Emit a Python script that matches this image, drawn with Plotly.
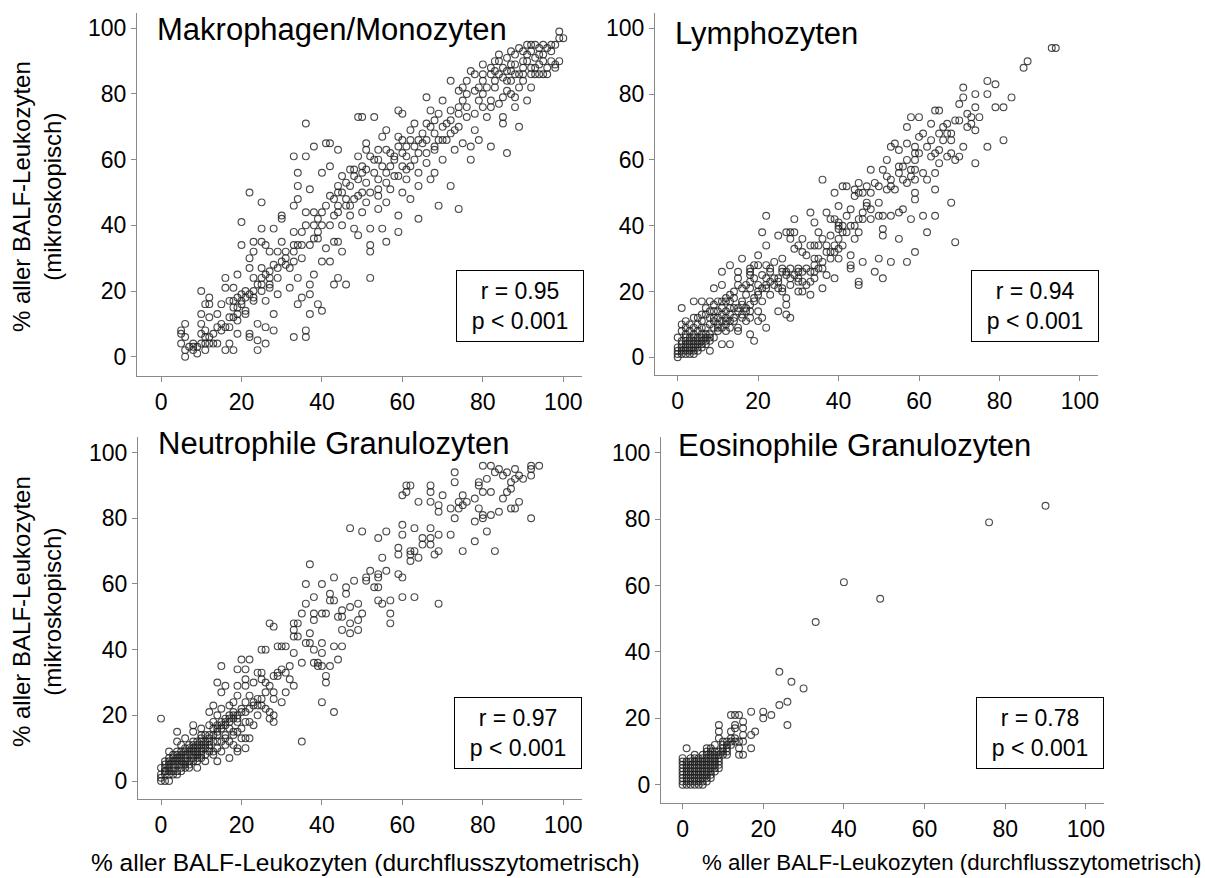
import plotly.graph_objects as go

W, H = 1205, 878

# ---------------- data ----------------
panel_titles = ["Makrophagen/Monozyten", "Lymphozyten",
                "Neutrophile Granulozyten", "Eosinophile Granulozyten"]
r_values = ["0.95", "0.94", "0.97", "0.78"]
p_labels = ["p < 0.001", "p < 0.001", "p < 0.001", "p < 0.001"]
tick_values = [0, 20, 40, 60, 80, 100]
y_title = "% aller BALF-Leukozyten<br>(mikroskopisch)"
x_title = "% aller BALF-Leukozyten (durchflusszytometrisch)"

mac_points = [
(5,8),(5,7),(6,10),(6,6),(5,4),(6,2),(6,0),(7,3),(8,4),(8,3),(9,1),(10,13),(10,20),(10,7),(10,10),(11,8),(11,6),(11,2),
(12,18),(11,16),(12,16),(12,12),(12,4),(13,4),(14,13),(14,4),(15,10),(15,16),(16,24),(16,2),(16,21),(16,9),(17,4),(17,9),
(18,2),(17,17),(18,21),(18,15),(19,25),(19,13),(19,7),(19,11),(20,19),(20,41),(20,34),(20,17),(21,13),(21,14),(22,50),
(22,30),(22,7),(22,6),(22,27),(22,19),(23,35),(23,32),(23,24),(23,17),(24,10),(24,2),(24,5),(25,39),(25,47),(25,27),(25,22),
(25,35),(25,24),(26,4),(26,17),(26,34),(26,9),(27,21),(27,32),(27,24),(28,39),(28,13),(28,8),(29,32),(29,27),(29,19),(30,42),
(30,35),(30,43),(31,30),(32,21),(32,27),(33,61),(33,46),(33,38),(33,6),(33,29),(34,34),(34,56),(34,52),(34,24),(34,16),(34,48),
(35,30),(35,18),(36,44),(36,61),(36,71),(36,8),(36,6),(37,51),(37,19),(37,13),(37,22),(38,44),(38,36),(38,25),(38,64),(39,42),
(39,16),(39,38),(40,29),(40,14),(40,56),(41,33),(41,65),(42,65),(42,58),(42,49),(42,29),(43,22),(43,35),(43,43),(44,52),(44,46),
(44,63),(44,35),(44,24),(44,50),(45,32),(45,55),(45,40),(46,46),(46,22),(47,57),(47,52),(47,43),(47,46),(48,55),(48,39),(49,73),
(49,61),(49,54),(49,37),(49,49),(50,73),(50,44),(50,56),(51,63),(51,53),(51,47),(51,65),(52,39),(52,34),(52,24),(52,32),(52,61),
(53,56),(53,73),(54,51),(54,49),(54,63),(54,45),(54,60),(55,67),(55,39),(56,63),(56,53),(56,47),(56,35),(56,69),(57,51),(57,58),
(58,61),(59,67),(59,64),(59,75),(59,43),(59,38),(59,55),(60,50),(60,74),(60,66),(61,61),(61,57),(61,54),(62,48),(62,69),(63,64),
(63,71),(63,60),(64,42),(64,56),(64,52),(65,65),(66,62),(66,79),(66,71),(66,59),(67,54),(67,75),(68,68),(68,63),(68,72),(68,56),
(69,46),(69,66),(70,78),(70,60),(71,71),(71,66),(72,84),(72,52),(72,75),(73,69),(73,63),(74,45),(74,81),(74,74),(75,65),(75,78),
(76,84),(76,73),(77,87),(77,64),(77,60),(78,81),(78,69),(79,66),(79,78),(80,89),(80,84),(81,73),(82,64),(82,78),(83,87),(83,84),
(84,77),(84,90),(85,73),(85,71),(86,62),(86,81),(86,87),(87,93),(87,84),(88,79),(88,76),(88,89),(89,86),(89,70),(90,84),(90,90),
(90,93),(91,78),(91,92),(92,86),(92,82),(92,95),(93,91),(93,86),(94,94),(94,89),(95,86),(95,95),(95,92),(96,86),(97,95),(97,93),
(98,89),(98,88),(99,99),(99,90),(100,97),(99,97),(98,95),
(82,88),(83,90),(84,92),(85,88),(86,91),(87,89),(88,92),(89,94),(90,88),(91,95),(92,93),(93,95),(94,92),(90,86),(88,86),(86,84),
(84,86),(82,86),(80,80),(79,82),(78,86),(76,80),(75,82),(74,76),(72,72),(70,70),(69,74),(67,70),(65,68),(64,66),(62,66),(61,64),
(60,62),(58,60),(57,62),(55,58),(53,60),(51,57),(50,58),(48,57),(46,53),(45,50),(43,48),(41,46),(40,44),(38,40),(36,40),(35,38),
(33,34),(31,32),(30,29),(28,28),(27,26),(26,25),(24,22),(23,20),(21,18),(20,16),(19,15),(18,12),(17,12),(15,8),(14,9),(13,7),
(12,6),(11,4),(10,4),(9,3),(8,2),(95,90),(96,88),(93,88),(91,90),(87,87),(85,85),(83,82),(81,82),(80,86),(94,86),(92,88),(97,90),
(96,94),(89,82),(87,80),(85,79),(82,76),(80,76),(78,74),(76,76),(74,70),(72,68),(70,66),(68,64),(66,66),(64,62),(62,58),(60,58),
(58,55),(56,56),(54,54),(52,50),(50,50),(48,48),(46,48),(44,44),(42,40),(40,40),(39,36),(37,34),(35,34),(33,32),(31,28),(29,24),
(27,22),(25,20),(23,18),(21,20),(19,18),(18,17)]

lym_points = [
(93,94),(94,94),(86,88),(87,90),(77,84),(79,83),(71,82),(74,80),(77,80),(83,79),(71,79),(70,77),(74,76),(79,76),(81,76),(64,75),
(65,75),(72,74),(58,73),(60,73),(63,71),(69,72),(70,72),(73,73),(75,73),(57,70),(66,70),(67,71),(74,69),(65,68),(67,68),(68,68),
(61,68),(60,67),(81,66),(53,64),(54,65),(57,65),(59,64),(55,63),(71,64),(77,64),(64,62),(65,63),(59,62),(52,60),(63,61),(68,62),
(70,61),(67,61),(65,59),(69,60),(74,59),(55,58),(48,57),(51,57),(58,57),(59,57),(61,56),(64,56),(58,55),(53,54),(56,54),(57,53),
(59,54),(62,54),(36,54),(49,53),(41,52),(42,52),(45,53),(47,52),(52,51),(54,51),(59,50),(64,51),(44,51),(45,50),(46,50),(39,50),
(44,49),(59,48),(68,47),(50,47),(40,46),(47,46),(43,45),(48,45),(55,44),(56,45),(33,44),(37,44),(22,43),(38,42),(39,42),(42,43),
(40,41),(46,42),(48,42),(50,43),(51,43),(53,43),(58,42),(61,43),(64,43),(29,42),(34,41),(40,40),(41,40),(40,39),(51,39),(62,38),
(21,38),(27,38),(28,38),(29,38),(35,38),(25,37),(38,37),(41,38),(45,38),(51,37),(28,36),(31,36),(36,36),(44,36),(55,36),(69,35),
(22,34),(30,34),(33,34),(34,34),(35,34),(37,34),(41,34),(29,33),(31,32),(37,32),(38,32),(40,33),(39,32),(59,32),(20,31),(32,31),
(43,31),(13,28),(16,30),(26,30),(34,30),(35,30),(40,30),(50,30),(53,29),(57,29),(46,29),(18,27),(19,28),(20,28),(22,28),(26,27),
(28,27),(30,27),(32,27),(34,28),(43,28),(36,27),(11,26),(15,26),(18,26),(23,26),(27,26),(30,26),(31,26),(33,26),(49,26),(43,27),
(15,24),(18,25),(22,24),(25,24),(28,24),(34,24),(37,25),(39,24),(51,24),(45,23),(45,22),(18,23),(20,22),(23,23),(25,23),(28,22),
(30,23),(11,22),(15,22),(36,21),(9,21),(16,21),(18,21),(22,21),(26,21),(30,20),(31,20),(17,19),(20,19),(23,19),(27,18),(33,19),
(4,17),(6,17),(8,17),(10,17),(12,17),(13,17),(16,17),(19,17),(21,17),(9,16),(11,15),(13,15),(17,15),(27,16),(1,15),(8,14),(10,14),
(12,14),(15,14),(18,14),(20,14),(25,14),(27,13),(28,12),(7,13),(13,13),(16,12),(18,12),(21,12),(6,11),(9,11),(11,11),(13,11),
(14,11),(17,11),(20,11),(2,11),(4,12),(3,10),(5,10),(8,10),(10,10),(12,10),(15,9),(13,9),(22,9),(1,10),(10,8),(12,8),(15,8),(18,7),
(19,5),(13,4),(11,4),(8,2),(1,8),(2,7),(4,7),(6,7),(7,7),(8,7),(3,6),(5,6),(6,6),(8,6),(9,6),(0,6),(1,5),(3,5),(4,5),(5,5),(7,5),
(1,4),(2,4),(3,4),(5,4),(6,4),(0,3),(1,3),(3,3),(4,3),(6,3),(0,2),(1,2),(2,2),(4,2),(5,2),(0,1),(1,1),(0,0),
(2,9),(3,8),(4,9),(5,8),(6,9),(7,9),(9,9),(2,6),(4,6),(7,6),(2,5),(6,5),(8,5),(4,4),(7,4),(2,3),(5,3),(3,2),(2,1),(3,1),(4,1),
(9,12),(10,12),(11,13),(12,12),(14,15),(15,15),(16,16),(19,18),(20,20),(21,21),(22,22),(24,22),(25,21),(26,20),(24,24),(13,19),
(14,18),(5,12),(6,13),(7,15),(8,12),(9,14),(11,17),(12,18),(14,20),(17,22),(19,24),(21,25),(23,27),(24,29),(26,26),(27,25),(29,25),
(30,24),(31,23),(32,22),(33,23),(34,26),(35,27),(36,29),(38,30),(39,34),(40,36),(42,38),(43,40),(44,40),(45,42),(46,44),(47,47),
(48,50),(50,52),(52,55),(53,52),(55,56),(56,58),(57,60),(59,60),(60,62),(62,64),(63,66),(66,66),(68,66),(72,70),(73,71),(17,14),
(16,13),(18,16),(14,12),(10,9),(11,9),(12,11)]

neu_points = [
(80,96),(82,96),(92,96),(94,96),(84,95),(88,95),(92,95),(73,94),(83,94),(86,94),(85,93),(89,93),(92,93),(81,92),(88,92),(90,92),
(79,91),(87,91),(73,91),(61,90),(62,90),(67,90),(79,90),(87,89),(67,88),(61,88),(80,88),(82,88),(86,88),(60,87),(70,87),(75,87),
(78,86),(85,86),(74,85),(76,85),(64,85),(67,85),(89,85),(69,84),(75,84),(72,83),(74,83),(79,83),(87,83),(88,83),(69,82),(84,82),
(80,81),(82,81),(80,80),(73,80),(92,80),(78,79),(60,78),(47,77),(50,76),(56,76),(63,77),(67,77),(81,76),(60,75),(69,75),(72,75),
(54,74),(65,74),(67,74),(78,73),(65,72),(67,72),(59,71),(62,70),(63,70),(69,70),(75,70),(83,70),(59,69),(62,69),(68,69),(55,68),
(64,68),(62,67),(37,66),(52,64),(56,64),(54,63),(59,63),(51,62),(43,62),(60,62),(54,62),(48,61),(51,61),(36,60),(40,60),(54,59),
(46,59),(53,59),(42,57),(46,57),(38,56),(36,54),(42,55),(43,55),(54,55),(55,54),(57,55),(60,56),(63,56),(69,54),(49,54),(38,51),
(40,51),(41,51),(35,51),(47,53),(50,51),(45,52),(57,51),(44,50),(45,50),(49,49),(38,49),(57,48),(27,48),(28,47),(33,48),(34,48),
(47,48),(33,46),(45,46),(49,46),(47,45),(37,45),(33,44),(34,44),(36,42),(40,42),(37,42),(29,41),(30,41),(31,41),(43,41),(45,41),
(25,40),(26,40),(33,39),(38,40),(40,39),(20,37),(22,37),(44,37),(35,36),(38,36),(39,36),(40,35),(15,35),(39,35),(42,35),(32,35),
(19,34),(21,34),(30,34),(31,33),(24,33),(25,33),(29,33),(41,32),(29,32),(28,32),(21,31),(25,31),(32,31),(41,30),(14,30),(23,30),
(26,30),(16,29),(19,29),(21,29),(27,29),(33,29),(15,27),(28,27),(31,27),(22,26),(19,26),(25,25),(28,25),(30,24),(40,24),(18,24),
(21,24),(13,23),(17,23),(23,23),(24,23),(25,23),(15,22),(20,22),(12,21),(27,21),(28,20),(43,21),(18,21),(21,21),(27,19),(28,18),
(14,20),(16,19),(17,19),(19,19),(13,18),(15,18),(19,18),(21,18),(0,19),(23,17),(8,17),(12,17),(10,16),(14,16),(17,16),(19,15),
(4,15),(8,15),(10,14),(12,14),(14,14),(16,14),(18,14),(20,13),(21,13),(22,13),(6,13),(4,12),(8,12),(10,12),(12,12),(14,12),(17,12),
(35,12),(18,11),(16,11),(5,11),(7,11),(9,11),(11,11),(12,10),(19,10),(21,10),(19,9),(2,9),(4,9),(6,9),(8,9),(10,9),(13,9),(15,9),
(3,8),(5,8),(7,8),(9,8),(11,8),(13,8),(17,7),(14,6),(2,7),(4,7),(6,7),(8,7),(10,7),(1,6),(3,6),(5,6),(7,6),(9,6),(11,6),(1,5),
(2,5),(4,5),(6,5),(7,5),(9,4),(0,4),(1,4),(3,4),(5,4),(7,4),(1,3),(2,3),(4,3),(5,3),(0,2),(1,2),(3,2),(4,2),(0,1),(1,0),(2,0),(0,0),
(2,2),(3,3),(2,4),(3,5),(4,6),(5,7),(6,8),(7,9),(8,10),(9,10),(10,11),(11,12),(12,13),(13,14),(14,15),(15,16),(16,17),(17,18),
(18,19),(19,20),(6,6),(8,8),(9,9),(10,10),(11,10),(12,11),(13,12),(6,10),(7,10),(5,9),(8,11),(9,12),(10,13),(11,14),(13,16),(14,17),
(15,17),(16,18),(17,20),(18,20),(20,21),(22,22),(23,24),(24,25),(26,27),(3,7),(4,8),(2,6),(1,3),(5,5),(6,4),(8,6),(9,7),(10,8),
(12,9),(14,10),(15,12),(16,13),(18,15),(20,16),(22,18),(24,20),(26,22)]

eos_points = [
(90,84),(76,79),(40,61),(49,56),(33,49),(24,34),(27,31),(30,29),(24,24),(26,25),(26,18),(17,22),(20,22),(20,20),(22,21),(12,21),
(13,21),(14,21),(13,18),(15,19),(15,17),(13,17),(18,16),(17,15),(12,16),(9,18),(9,16),(9,14),(10,13),(11,12),(12,12),(13,13),
(15,13),(17,11),(14,11),(15,9),(14,9),(11,10),(1,11),(7,11),(6,10),(8,10),(10,10),(11,9),(9,9),(0,8),(2,8),(3,8),(4,8),(6,9),(7,8),
(8,8),(9,7),(1,7),(3,7),(5,7),(7,7),(8,6),(9,5),(0,6),(2,6),(4,6),(6,6),(0,5),(1,5),(3,5),(5,5),(7,5),(8,4),(2,4),(4,4),(6,4),
(0,3),(1,3),(3,3),(5,3),(7,3),(0,2),(2,2),(4,2),(6,1),(0,1),(1,1),(3,1),(5,1),(0,0),(2,0),(3,0),(6,3),
(1,0),(1,2),(2,1),(2,3),(2,5),(2,7),(3,2),(3,4),(3,6),(4,1),(4,3),(4,5),(4,7),(5,2),(5,4),(5,6),(5,8),(6,2),(6,5),(6,7),(6,8),
(7,2),(7,4),(7,6),(7,9),(8,5),(8,7),(8,9),(9,6),(9,8),(9,10),(10,9),(10,11),(11,11),(12,13),(0,4),(0,7),(1,4),(1,6),(5,0),(4,0),
(3,9),(6,11),(8,12),(10,12),(11,13),(12,14),(14,13),(13,14),(15,15),(5,9),(7,10)]

all_points = [mac_points, lym_points, neu_points, eos_points]

# ---------------- layout geometry (pixels) ----------------
areas = [(137, 582, 13, 376), (655, 1098, 13, 375), (138, 582, 437, 799), (661, 1104, 437, 803)]
xranges = [[-5.97, 104.65], [-5.64, 104.5], [-5.72, 104.65], [-5.35, 104.5]]
yranges = [[-5.88, 104.66], [-5.38, 104.65], [-5.48, 104.75], [-5.5, 104.7]]
title_pos = [(155, 30), (673, 33), (156, 443), (676, 445)]
box_pos = [(519.5, 306.5), (1034.5, 306), (518, 732.5), (1040, 732.5)]

FONT = "Liberation Sans, Arial, sans-serif"

def px(p):
    return p / W

def py(p):
    return 1 - p / H

fig = go.Figure()
layout = dict(width=W, height=H, margin=dict(l=0, r=0, t=0, b=0),
              paper_bgcolor="white", plot_bgcolor="white", showlegend=False,
              font=dict(family=FONT, color="black"))
annotations = []
for i, pts in enumerate(all_points):
    n = "" if i == 0 else str(i + 1)
    xs = [p[0] for p in pts]
    ys = [p[1] for p in pts]
    fig.add_trace(go.Scatter(
        x=xs, y=ys, mode="markers", xaxis="x" + n, yaxis="y" + n,
        marker=dict(symbol="circle-open", size=6.8, color="rgba(30,30,30,0.8)",
                    line=dict(width=1.15, color="rgba(30,30,30,0.8)")),
        hoverinfo="skip"))
    l, r, t, b = areas[i]
    axis_common = dict(showline=True, linecolor="#8a8a8a", linewidth=1,
                       ticks="outside", ticklen=5, tickcolor="#8a8a8a", tickwidth=1,
                       tickvals=tick_values, showgrid=False, zeroline=False,
                       tickfont=dict(size=23, family=FONT, color="black"), mirror=False)
    layout["xaxis" + n] = dict(domain=[px(l), px(r)], range=xranges[i],
                               anchor="y" + n, **axis_common)
    layout["yaxis" + n] = dict(domain=[py(b), py(t)], range=yranges[i],
                               anchor="x" + n, **axis_common)
    tx, ty = title_pos[i]
    annotations.append(dict(text=panel_titles[i], x=px(tx), y=py(ty), xref="paper", yref="paper",
                            xanchor="left", yanchor="middle", showarrow=False,
                            font=dict(size=31, family=FONT, color="black")))
    bx, by = box_pos[i]
    annotations.append(dict(text="r = " + r_values[i] + "<br>" + p_labels[i],
                            x=px(bx), y=py(by), xref="paper", yref="paper",
                            xanchor="center", yanchor="middle", showarrow=False,
                            width=118, height=62, borderpad=4, bordercolor="black",
                            borderwidth=1, bgcolor="white", align="center",
                            font=dict(size=23, family=FONT, color="black")))

# axis titles
for cy in (197, 612):
    annotations.append(dict(text=y_title, x=px(37), y=py(cy), xref="paper", yref="paper",
                            xanchor="center", yanchor="middle", textangle=-90, showarrow=False,
                            font=dict(size=24, family=FONT, color="black")))
annotations.append(dict(text=x_title, x=px(365), y=py(862), xref="paper", yref="paper",
                        xanchor="center", yanchor="middle", showarrow=False,
                        font=dict(size=24.5, family=FONT, color="black")))
annotations.append(dict(text=x_title, x=px(951), y=py(862), xref="paper", yref="paper",
                        xanchor="center", yanchor="middle", showarrow=False,
                        font=dict(size=22.3, family=FONT, color="black")))

layout["annotations"] = annotations
fig.update_layout(**layout)
fig.write_html("out.html")
